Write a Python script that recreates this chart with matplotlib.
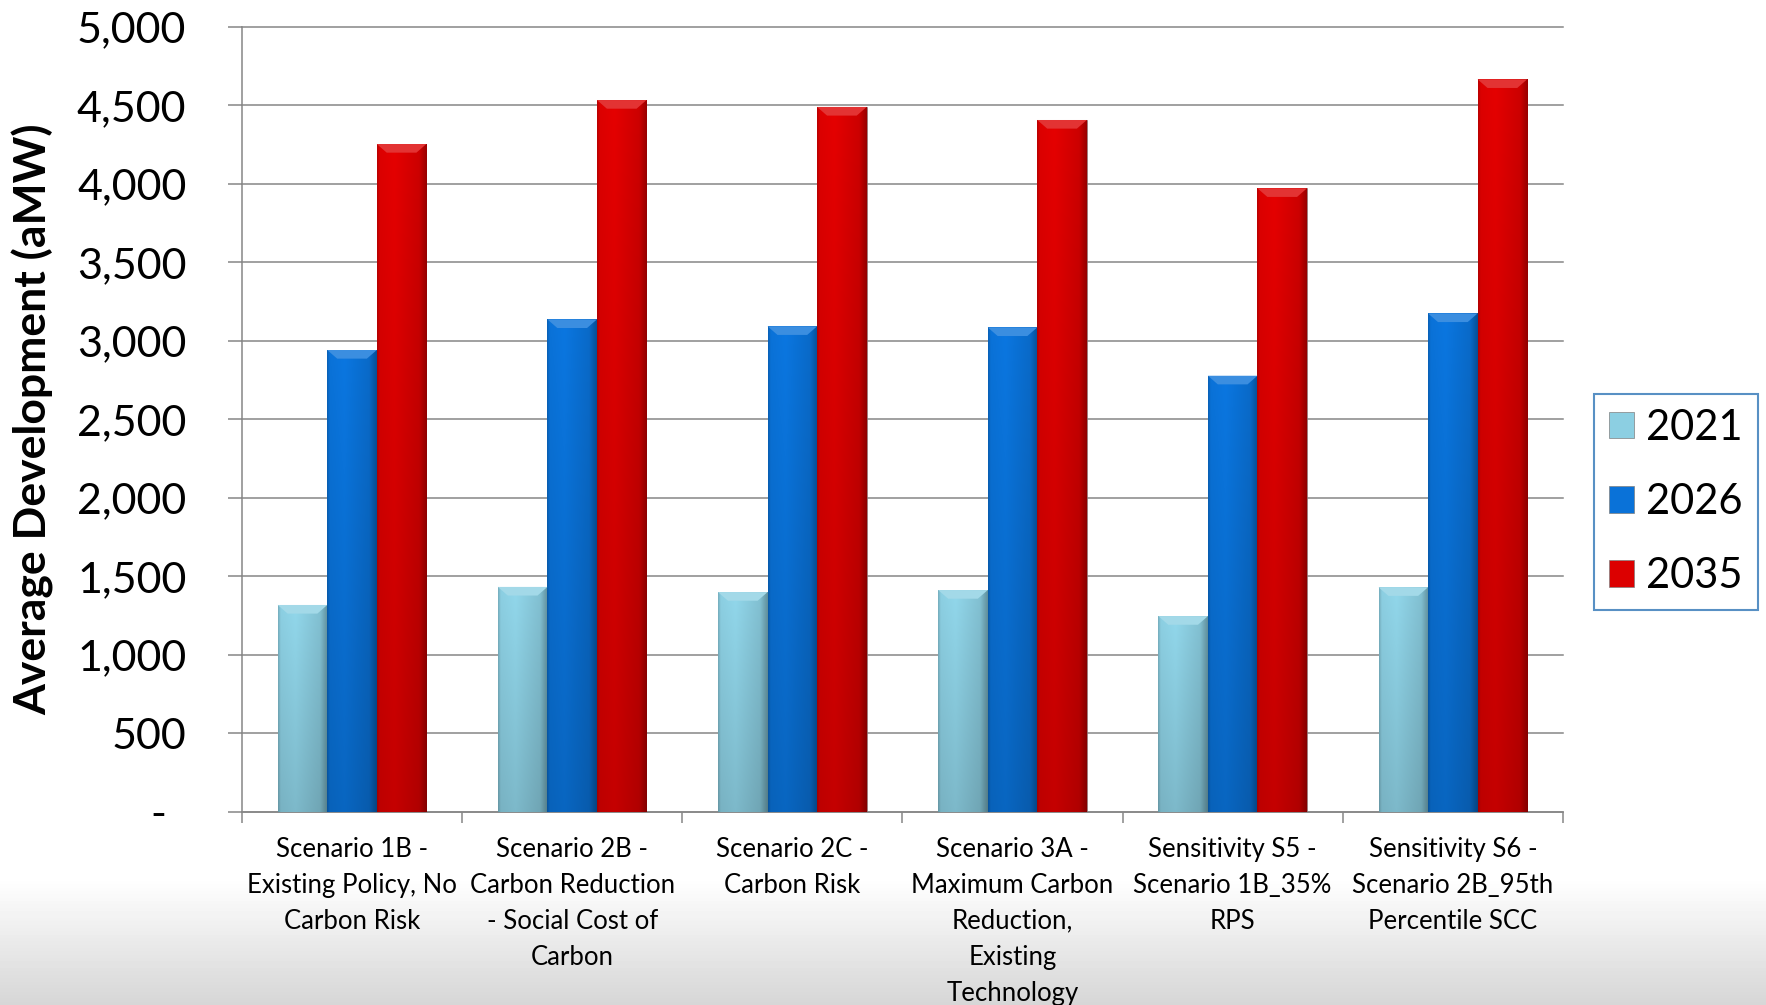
import matplotlib
matplotlib.use('Agg')
import matplotlib.pyplot as plt
import numpy as np
from matplotlib.patches import Patch, Polygon
from matplotlib.ticker import FuncFormatter, FixedLocator, NullFormatter

plt.rcParams['font.family'] = ['Lato', 'DejaVu Sans']

scenarios = [
    'Scenario 1B -\nExisting Policy, No\nCarbon Risk',
    'Scenario 2B -\nCarbon Reduction\n- Social Cost of\nCarbon',
    'Scenario 2C -\nCarbon Risk',
    'Scenario 3A -\nMaximum Carbon\nReduction,\nExisting\nTechnology',
    'Sensitivity S5 -\nScenario 1B_35%\nRPS',
    'Sensitivity S6 -\nScenario 2B_95th\nPercentile SCC',
]
years = ['2021', '2026', '2035']
dev_2021 = [1317, 1432, 1399, 1412, 1246, 1430]
dev_2026 = [2941, 3136, 3092, 3085, 2777, 3174]
dev_2035 = [4253, 4533, 4489, 4406, 3971, 4665]

bar_colors = ['#8ccfe2', '#0a72d8', '#dc0000']
grid_gray = '#868686'


def shade_bar(ax, bar, color):
    # horizontal + vertical shading clipped to the bar, plus a light top bevel
    rgb = np.array(matplotlib.colors.to_rgb(color))
    x0, y0 = bar.get_x(), bar.get_y()
    bw, bh = bar.get_width(), bar.get_height()
    hx = np.interp(np.linspace(0, 1, 60), [0, 0.05, 0.35, 0.85, 1], [0.85, 1.0, 1.04, 0.93, 0.7])
    vy = np.interp(np.linspace(0, 1, 100), [0, 1], [0.86, 1.0])
    img = np.clip(rgb[None, None, :] * hx[None, :, None] * vy[:, None, None], 0, 1)
    im = ax.imshow(img, extent=[x0, x0 + bw, y0, y0 + bh], origin='lower',
                   aspect='auto', zorder=3.2, interpolation='bilinear')
    im.set_clip_path(bar)
    inset = bw * 0.2
    depth = 55
    light = rgb + (1 - rgb) * 0.2
    top = y0 + bh
    ax.add_patch(Polygon([(x0, top), (x0 + bw, top), (x0 + bw - inset, top - depth),
                          (x0 + inset, top - depth)], closed=True, facecolor=light,
                         edgecolor='none', zorder=3.3))


fig = plt.figure(figsize=(17.66, 10.05), dpi=100)

# slide background fade at the bottom
bg = fig.add_axes([0, 0, 1, 1], zorder=0)
bg.axis('off')
fade = np.interp(np.linspace(0, 1, 300), [0, 0.125, 1], [0.84, 1.0, 1.0])
bg.imshow(fade[:, None], cmap='gray', vmin=0, vmax=1, extent=[0, 1, 0, 1],
          origin='lower', aspect='auto')

ax = fig.add_axes([0.137, 0.1923, 0.748, 0.7811], zorder=1)
ax.set_facecolor('none')

x = np.arange(len(scenarios))
w = 0.225
for i, (vals, c) in enumerate(zip([dev_2021, dev_2026, dev_2035], bar_colors)):
    bars = ax.bar(x + (i - 1) * w, vals, w, color=c, edgecolor='#808080',
                  linewidth=0.5, zorder=3)
    for b in bars:
        shade_bar(ax, b, c)

ax.set_xlim(-0.5, 5.5)
ax.set_ylim(0, 5000)
ax.set_yticks(np.arange(0, 5001, 500))
ax.yaxis.set_major_formatter(FuncFormatter(lambda v, p: '' if v == 0 else f'{int(v):,}'))
# accounting-style dash for zero sits left of the number column
ax.text(-0.0632, 0, '-', transform=ax.get_yaxis_transform(), ha='center',
        va='center_baseline', fontsize=31)
ax.grid(axis='y', color=grid_gray, linewidth=1.1)
ax.set_axisbelow(True)
for gl in ax.get_ygridlines():
    gl.set_clip_on(False)
ax.tick_params(axis='y', length=10, width=1.1, color=grid_gray, pad=30, labelsize=31)

ax.xaxis.set_major_locator(FixedLocator(np.arange(-0.5, 6, 1)))
ax.xaxis.set_major_formatter(NullFormatter())
ax.set_xticks(x, minor=True)
ax.set_xticklabels(scenarios, minor=True, fontsize=18.5, linespacing=1.55)
ax.tick_params(axis='x', which='major', length=8, width=1.1, color=grid_gray)
ax.tick_params(axis='x', which='minor', length=0, pad=18)

for s in ['top', 'right']:
    ax.spines[s].set_visible(False)
for s in ['left', 'bottom']:
    ax.spines[s].set_color(grid_gray)
    ax.spines[s].set_linewidth(1.1)

fig.text(0.019, 0.583, 'Average Development (aMW)', rotation=90, ha='center',
         va='center', fontsize=32, fontweight='bold')

handles = [Patch(facecolor=c, edgecolor='#7f7f7f', linewidth=0.5) for c in bar_colors]
leg = fig.legend(handles, years, loc='center', bbox_to_anchor=(0.949, 0.5005),
                 fontsize=30, handlelength=0.6, handleheight=0.6, handletextpad=0.3,
                 labelspacing=0.87, borderpad=0.35, frameon=True, fancybox=False,
                 edgecolor='#2e75b6')
leg.get_frame().set_linewidth(1.5)

fig.savefig('out.png', dpi=100)
